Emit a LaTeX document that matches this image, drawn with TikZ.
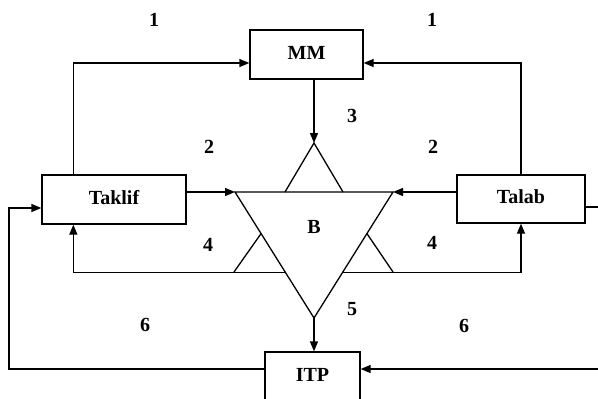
\documentclass[tikz,border=0pt]{standalone}
\usepackage{fontspec}
\setmainfont{Liberation Serif}
\usetikzlibrary{arrows.meta,calc}
\begin{document}
\begin{tikzpicture}[x=1pt,y=-1pt,
  line width=1.3pt,
  arr/.style={-{Triangle[length=10pt,width=8pt]}},
  box/.style={draw,rectangle,inner sep=0pt,font=\fontsize{20}{24}\selectfont\bfseries,text height=14pt,text depth=5pt},
  lbl/.style={font=\fontsize{20}{24}\selectfont\bfseries,inner sep=0pt}]
\useasboundingbox (0,0) rectangle (598,399);
% boxes
\node[box,minimum width=113pt,minimum height=49pt] (mm) at (306.5,54.5) {MM};
\node[box,minimum width=144pt,minimum height=49pt] (taklif) at (114,199.5) {Taklif};
\node[box,minimum width=128pt,minimum height=48pt] (talab) at (521,199) {Talab};
\node[box,minimum width=95pt,minimum height=50pt] (itp) at (312.5,377) {ITP};
% triangles
\coordinate (tl) at (235,192);
\coordinate (tr) at (393,192);
\coordinate (tb) at (314,318);
\coordinate (ta) at (314,143);
\coordinate (tsl) at (285,192);
\coordinate (tsr) at (343,192);
\coordinate (lap) at ($(tl)!0.33!(tb)$);
\coordinate (rap) at ($(tr)!0.33!(tb)$);
\coordinate (lbe) at ($(tl)!0.638!(tb)$);
\coordinate (rbe) at ($(tr)!0.638!(tb)$);
\coordinate (lsb) at (234,272);
\coordinate (rsb) at (393,272);
\coordinate (lc) at (9,208);
\coordinate (rc) at (601,207);
\draw[line join=miter] (tl) -- (tr) -- (tb) -- cycle;
\draw (tsl) -- (ta) -- (tsr);
\draw (lsb) -- (lap);
\draw (rap) -- (rsb);
\node[lbl] (b) at (314,227) {B};
% connectors
\draw[arr] ([xshift=32pt]taklif.north west) |- ([yshift=-8.5pt]mm.west);
\draw[arr] (talab.north) |- ([yshift=-8.5pt]mm.east);
\draw[arr] (ta |- mm.south) -- (ta);
\draw[arr] (tl -| taklif.east) -- (tl);
\draw[arr] (tr -| talab.west) -- (tr);
\draw[arr] (lbe) -| ([xshift=32pt]taklif.south west);
\draw[arr] (rbe) -| (talab.south);
\draw[arr] (tb) -- (tb |- itp.north);
\draw[arr] ([yshift=8pt]itp.west) -| (lc) -- (lc -| taklif.west);
\draw[arr] (rc -| talab.east) -- (rc) |- ([yshift=8pt]itp.east);
% labels
\node[lbl] (l1a) at (154,20) {1};
\node[lbl] (l1b) at (432,20) {1};
\node[lbl] (l2a) at (209,147) {2};
\node[lbl] (l2b) at (433,147) {2};
\node[lbl] (l3) at (352,116) {3};
\node[lbl] (l4a) at (208,245) {4};
\node[lbl] (l4b) at (432,243) {4};
\node[lbl] (l5) at (352,309) {5};
\node[lbl] (l6a) at (145,325) {6};
\node[lbl] (l6b) at (464,326) {6};
\end{tikzpicture}
\end{document}
